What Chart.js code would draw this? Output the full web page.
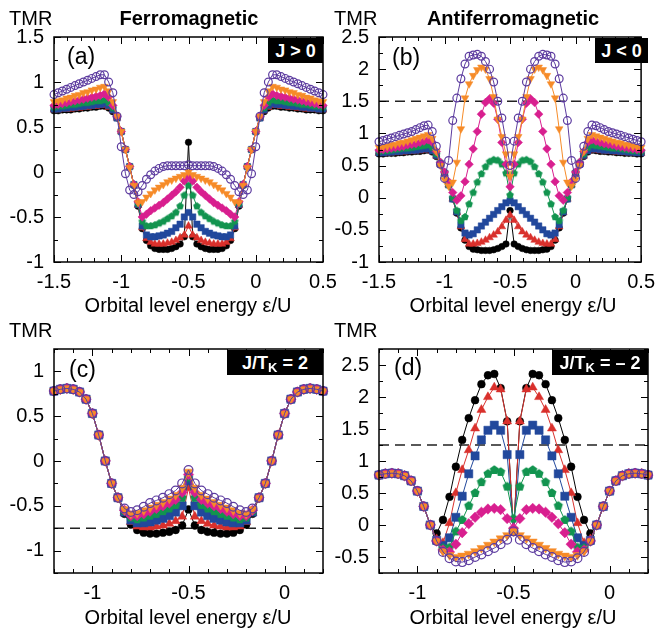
<!DOCTYPE html>
<html><head><meta charset="utf-8">
<script src="https://cdn.jsdelivr.net/npm/chart.js@4.4.1/dist/chart.umd.min.js"></script>
<style>
html,body{margin:0;padding:0;background:#fff;}
#wrap{position:relative;width:663px;height:629px;overflow:hidden;background:#fff;font-family:'Liberation Sans',Arial,Helvetica,sans-serif;color:#000;}
#wrap canvas{position:absolute;left:0;top:0;}
.t{position:absolute;white-space:nowrap;line-height:1;}
.c{text-align:center;width:300px;}
.box{position:absolute;background:#000;color:#fff;font-weight:bold;font-size:18px;display:flex;align-items:center;justify-content:center;white-space:nowrap;line-height:1;}
.box .k{position:relative;top:5px;font-size:13px;}
</style></head><body>
<div id="wrap">
<canvas id="ca" width="663" height="629"></canvas>
<canvas id="cb" width="663" height="629"></canvas>
<canvas id="cc" width="663" height="629"></canvas>
<canvas id="cd" width="663" height="629"></canvas>

<div class="t" style="left:9px;top:8px;font-size:20px">TMR</div>
<div class="t" style="left:334px;top:8px;font-size:20px">TMR</div>
<div class="t" style="left:9px;top:320px;font-size:20px">TMR</div>
<div class="t" style="left:334px;top:320px;font-size:20px">TMR</div>
<div class="t c" style="left:39px;top:8px;font-size:20px;font-weight:bold">Ferromagnetic</div>
<div class="t c" style="left:363px;top:8px;font-size:20px;font-weight:bold">Antiferromagnetic</div>
<div class="t c" style="left:38px;top:295px;font-size:20px">Orbital level energy ε/U</div>
<div class="t c" style="left:363px;top:295px;font-size:20px">Orbital level energy ε/U</div>
<div class="t c" style="left:38px;top:607px;font-size:20px">Orbital level energy ε/U</div>
<div class="t c" style="left:363px;top:607px;font-size:20px">Orbital level energy ε/U</div>
<div class="t" style="left:67px;top:45px;font-size:23px">(a)</div>
<div class="t" style="left:392px;top:46px;font-size:23px">(b)</div>
<div class="t" style="left:69px;top:358px;font-size:23px">(c)</div>
<div class="t" style="left:394px;top:356px;font-size:23px">(d)</div>
<div class="box" style="left:268px;top:38px;width:55px;height:25px">J &gt; 0</div>
<div class="box" style="left:595px;top:38px;width:53px;height:25px">J &lt; 0</div>
<div class="box" style="left:227px;top:350px;width:96px;height:25px">J/T<span class="k">K</span>&nbsp;=&nbsp;2</div>
<div class="box" style="left:552px;top:350px;width:96px;height:25px">J/T<span class="k">K</span>&nbsp;=&nbsp;–&nbsp;2</div>
</div>
<script>
// ---------- x grids ----------
const xAB = [-1.5,-1.46875,-1.4375,-1.40625,-1.375,-1.34375,-1.3125,-1.28125,-1.25,-1.21875,-1.1875,-1.15625,-1.125,-1.09375,-1.0625,-1.03125,-1,-0.96875,-0.9375,-0.90625,-0.875,-0.84375,-0.8125,-0.78125,-0.75,-0.71875,-0.6875,-0.65625,-0.625,-0.59375,-0.5625,-0.53125,-0.5,-0.46875,-0.4375,-0.40625,-0.375,-0.34375,-0.3125,-0.28125,-0.25,-0.21875,-0.1875,-0.15625,-0.125,-0.09375,-0.0625,-0.03125,0,0.03125,0.0625,0.09375,0.125,0.15625,0.1875,0.21875,0.25,0.28125,0.3125,0.34375,0.375,0.40625,0.4375,0.46875,0.5];
const xCD = [-1.2,-1.167,-1.133,-1.1,-1.067,-1.033,-1,-0.967,-0.933,-0.9,-0.867,-0.833,-0.8,-0.767,-0.733,-0.7,-0.667,-0.633,-0.6,-0.567,-0.533,-0.5,-0.467,-0.433,-0.4,-0.367,-0.333,-0.3,-0.267,-0.233,-0.2,-0.167,-0.133,-0.1,-0.067,-0.033,0,0.033,0.067,0.1,0.133,0.167,0.2];

// ---------- tick labels ----------
const xTicksAB = [-1.5,-1,-0.5,0,0.5];
const xTicksCD = [-1,-0.5,0];
const yTicksA = [-1,-0.5,0,0.5,1,1.5];
const yTicksB = [-1,-0.5,0,0.5,1,1.5,2,2.5];
const yTicksC = [-1,-0.5,0,0.5,1];
const yTicksD = [-0.5,0,0.5,1,1.5,2,2.5];

// ---------- panel (a) ferromagnetic J>0 ----------
const aPurple = [.86,.88,.90,.92,.94,.96,.98,1.00,1.02,1.04,1.06,1.08,1.08,1.00,.88,.62,.28,-.02,-.2,-.25,-.22,-.15,-.08,-.03,.01,.04,.06,.07,.07,.07,.07,.07,.08,.07,.07,.07,.07,.07,.06,.04,.01,-.03,-.08,-.15,-.22,-.25,-.2,-.02,.28,.62,.88,1.00,1.08,1.08,1.06,1.04,1.02,1.00,.98,.96,.94,.92,.90,.88,.86];
const aOrange = [.78,.79,.80,.82,.83,.85,.86,.88,.89,.91,.92,.94,.95,.90,.78,.62,.45,.25,.05,-.15,-.34,-.33,-.28,-.24,-.2,-.17,-.14,-.11,-.09,-.07,-.05,-.03,.0,-.03,-.05,-.07,-.09,-.11,-.14,-.17,-.2,-.24,-.28,-.33,-.34,-.15,.05,.25,.45,.62,.78,.90,.95,.94,.92,.91,.89,.88,.86,.85,.83,.82,.80,.79,.78];
const aMagenta = [.74,.75,.76,.77,.78,.79,.80,.81,.82,.83,.84,.85,.87,.83,.74,.62,.45,.25,.06,-.14,-.33,-.5,-.47,-.43,-.4,-.37,-.34,-.3,-.26,-.22,-.17,-.1,-.05,-.1,-.17,-.22,-.26,-.3,-.34,-.37,-.4,-.43,-.47,-.5,-.33,-.14,.06,.25,.45,.62,.74,.83,.87,.85,.84,.83,.82,.81,.80,.79,.78,.77,.76,.75,.74];
const aGreen = [.72,.73,.73,.74,.75,.75,.76,.77,.77,.78,.79,.79,.80,.77,.71,.61,.45,.25,.06,-.14,-.35,-.55,-.6,-.6,-.59,-.57,-.55,-.52,-.49,-.45,-.38,-.26,-.15,-.26,-.38,-.45,-.49,-.52,-.55,-.57,-.59,-.6,-.6,-.55,-.35,-.14,.06,.25,.45,.61,.71,.77,.80,.79,.79,.78,.77,.77,.76,.75,.75,.74,.73,.73,.72];
const aBlue = [.70,.70,.71,.71,.72,.72,.73,.73,.74,.74,.75,.75,.76,.74,.69,.6,.45,.25,.06,-.14,-.36,-.6,-.7,-.72,-.72,-.71,-.7,-.68,-.66,-.62,-.58,-.5,-.45,-.5,-.58,-.62,-.66,-.68,-.7,-.71,-.72,-.72,-.7,-.6,-.36,-.14,.06,.25,.45,.6,.69,.74,.76,.75,.75,.74,.74,.73,.73,.72,.72,.71,.71,.70,.70];
const aRed = [.69,.69,.70,.70,.70,.71,.71,.72,.72,.73,.73,.74,.74,.72,.68,.6,.45,.25,.06,-.14,-.37,-.62,-.74,-.78,-.8,-.8,-.8,-.79,-.78,-.76,-.73,-.7,-.6,-.7,-.73,-.76,-.78,-.79,-.8,-.8,-.8,-.78,-.74,-.62,-.37,-.14,.06,.25,.45,.6,.68,.72,.74,.74,.73,.73,.72,.72,.71,.71,.70,.70,.70,.69,.69];
const aBlack = [.68,.68,.69,.69,.69,.70,.70,.71,.71,.72,.72,.73,.73,.71,.67,.6,.45,.25,.06,-.15,-.38,-.63,-.76,-.82,-.85,-.86,-.86,-.86,-.85,-.83,-.8,-.72,.33,-.72,-.8,-.83,-.85,-.86,-.86,-.86,-.85,-.82,-.76,-.63,-.38,-.15,.06,.25,.45,.6,.67,.71,.73,.73,.72,.72,.71,.71,.70,.70,.69,.69,.69,.68,.68];

// ---------- panel (b) antiferromagnetic J<0 ----------
const bPurple = [.87,.89,.91,.93,.95,.97,.99,1.01,1.03,1.06,1.09,1.12,1.13,1.03,.8,.52,.3,.58,1.2,1.55,1.85,2.08,2.2,2.22,2.23,2.2,2.12,2.0,1.8,1.5,1.24,.88,.5,.88,1.24,1.5,1.8,2.0,2.12,2.2,2.23,2.22,2.2,2.08,1.85,1.55,1.2,.58,.3,.52,.8,1.03,1.13,1.12,1.09,1.06,1.03,1.01,.99,.97,.95,.93,.91,.89,.87];
const bOrange = [.78,.79,.80,.82,.83,.85,.86,.88,.90,.92,.94,.96,.98,.92,.72,.5,.28,.18,.24,.55,1.07,1.55,1.77,1.9,1.99,2.03,2.0,1.85,1.57,1.22,.95,.68,.33,.68,.95,1.22,1.57,1.85,2.0,2.03,1.99,1.9,1.77,1.55,1.07,.55,.24,.18,.28,.5,.72,.92,.98,.96,.94,.92,.90,.88,.86,.85,.83,.82,.80,.79,.78];
const bMagenta = [.74,.75,.76,.77,.78,.79,.80,.82,.83,.84,.86,.88,.90,.86,.72,.55,.4,.25,.08,-.04,.03,.25,.52,.76,1.03,1.3,1.48,1.54,1.47,1.22,.86,.52,.17,.52,.86,1.22,1.47,1.54,1.48,1.3,1.03,.76,.52,.25,.03,-.04,.08,.25,.4,.55,.72,.86,.90,.88,.86,.84,.83,.82,.80,.79,.78,.77,.76,.75,.74];
const bGreen = [.72,.73,.73,.74,.75,.76,.77,.77,.78,.79,.80,.81,.82,.78,.68,.55,.4,.2,.0,-.2,-.36,-.3,-.1,.08,.24,.37,.48,.56,.59,.58,.52,.38,.04,.38,.52,.58,.59,.56,.48,.37,.24,.08,-.1,-.3,-.36,-.2,.0,.2,.4,.55,.68,.78,.82,.81,.80,.79,.78,.77,.77,.76,.75,.74,.73,.73,.72];
const bBlue = [.70,.70,.71,.71,.72,.72,.73,.73,.74,.74,.75,.76,.76,.73,.66,.52,.38,.2,-.02,-.22,-.42,-.55,-.58,-.56,-.5,-.44,-.38,-.32,-.26,-.2,-.14,-.08,-.05,-.08,-.14,-.2,-.26,-.32,-.38,-.44,-.5,-.56,-.58,-.55,-.42,-.22,-.02,.2,.38,.52,.66,.73,.76,.76,.75,.74,.74,.73,.73,.72,.72,.71,.71,.70,.70];
const bRed = [.69,.69,.70,.70,.70,.71,.71,.72,.72,.73,.73,.74,.75,.72,.65,.52,.38,.2,-.02,-.23,-.45,-.65,-.72,-.72,-.71,-.69,-.66,-.62,-.58,-.53,-.45,-.35,-.27,-.35,-.45,-.53,-.58,-.62,-.66,-.69,-.71,-.72,-.72,-.65,-.45,-.23,-.02,.2,.38,.52,.65,.72,.75,.74,.73,.73,.72,.72,.71,.71,.70,.70,.70,.69,.69];
const bBlack = [.68,.68,.69,.69,.69,.70,.70,.71,.71,.72,.72,.73,.74,.71,.64,.52,.38,.2,-.02,-.24,-.47,-.66,-.76,-.8,-.81,-.82,-.82,-.82,-.81,-.79,-.76,-.72,-.2,-.72,-.76,-.79,-.81,-.82,-.82,-.82,-.81,-.8,-.76,-.66,-.47,-.24,-.02,.2,.38,.52,.64,.71,.74,.73,.72,.72,.71,.71,.70,.70,.69,.69,.69,.68,.68];

// ---------- panel (c) J/T_K = 2 ----------
const cPurple = [.78,.80,.81,.80,.77,.69,.53,.29,.0,-.25,-.41,-.53,-.57,-.55,-.51,-.47,-.44,-.41,-.37,-.33,-.25,-.10,-.25,-.33,-.37,-.41,-.44,-.47,-.51,-.55,-.57,-.53,-.41,-.25,.0,.29,.53,.69,.77,.80,.81,.80,.78];
const cOrange = [.78,.80,.81,.80,.77,.69,.53,.29,.0,-.25,-.41,-.54,-.59,-.58,-.55,-.52,-.49,-.46,-.42,-.38,-.3,-.12,-.3,-.38,-.42,-.46,-.49,-.52,-.55,-.58,-.59,-.54,-.41,-.25,.0,.29,.53,.69,.77,.80,.81,.80,.78];
const cMagenta = [.78,.80,.81,.80,.77,.69,.53,.29,.0,-.25,-.41,-.55,-.61,-.61,-.59,-.56,-.53,-.5,-.47,-.43,-.35,-.15,-.35,-.43,-.47,-.5,-.53,-.56,-.59,-.61,-.61,-.55,-.41,-.25,.0,.29,.53,.69,.77,.80,.81,.80,.78];
const cGreen = [.78,.80,.81,.80,.77,.69,.53,.29,.0,-.25,-.41,-.56,-.63,-.65,-.63,-.61,-.59,-.56,-.53,-.49,-.41,-.18,-.41,-.49,-.53,-.56,-.59,-.61,-.63,-.65,-.63,-.56,-.41,-.25,.0,.29,.53,.69,.77,.80,.81,.80,.78];
const cBlue = [.78,.80,.81,.80,.77,.69,.53,.29,.0,-.25,-.41,-.57,-.66,-.69,-.69,-.68,-.66,-.64,-.61,-.57,-.5,-.22,-.5,-.57,-.61,-.64,-.66,-.68,-.69,-.69,-.66,-.57,-.41,-.25,.0,.29,.53,.69,.77,.80,.81,.80,.78];
const cRed = [.78,.80,.81,.80,.77,.69,.53,.29,.0,-.25,-.41,-.58,-.68,-.73,-.74,-.74,-.73,-.72,-.7,-.67,-.62,-.3,-.62,-.67,-.7,-.72,-.73,-.74,-.74,-.73,-.68,-.58,-.41,-.25,.0,.29,.53,.69,.77,.80,.81,.80,.78];
const cBlack = [.78,.80,.81,.80,.77,.69,.53,.29,.0,-.25,-.41,-.59,-.71,-.77,-.8,-.81,-.81,-.8,-.79,-.77,-.72,-.54,-.72,-.77,-.79,-.8,-.81,-.81,-.8,-.77,-.71,-.59,-.41,-.25,.0,.29,.53,.69,.77,.80,.81,.80,.78];

// ---------- panel (d) J/T_K = -2 ----------
const dPurple = [.78,.80,.81,.80,.77,.69,.53,.29,.0,-.25,-.42,-.52,-.57,-.58,-.55,-.5,-.46,-.41,-.36,-.3,-.23,-.1,-.23,-.3,-.36,-.41,-.46,-.5,-.55,-.58,-.57,-.52,-.42,-.25,.0,.29,.53,.69,.77,.80,.81,.80,.78];
const dOrange = [.78,.80,.81,.80,.77,.69,.53,.29,.0,-.25,-.41,-.47,-.5,-.48,-.45,-.41,-.36,-.31,-.26,-.21,-.16,-.1,-.16,-.21,-.26,-.31,-.36,-.41,-.45,-.48,-.5,-.47,-.41,-.25,.0,.29,.53,.69,.77,.80,.81,.80,.78];
const dMagenta = [.78,.80,.81,.80,.77,.69,.53,.29,.0,-.25,-.39,-.42,-.3,-.12,.02,.12,.2,.25,.26,.24,.1,-.05,.1,.24,.26,.25,.2,.12,.02,-.12,-.3,-.42,-.39,-.25,.0,.29,.53,.69,.77,.80,.81,.80,.78];
const dGreen = [.78,.80,.81,.80,.77,.69,.53,.29,.0,-.25,-.36,-.35,-.1,.08,.3,.5,.67,.8,.86,.83,.6,.1,.6,.83,.86,.8,.67,.5,.3,.08,-.1,-.35,-.36,-.25,.0,.29,.53,.69,.77,.80,.81,.80,.78];
const dBlue = [.78,.80,.81,.80,.77,.69,.53,.29,.0,-.24,-.32,-.2,.12,.45,.8,1.08,1.33,1.48,1.56,1.48,1.1,-.1,1.1,1.48,1.56,1.48,1.33,1.08,.8,.45,.12,-.2,-.32,-.24,.0,.29,.53,.69,.77,.80,.81,.80,.78];
const dRed = [.78,.80,.81,.80,.77,.69,.53,.29,.0,-.22,-.28,.03,.5,.86,1.17,1.51,1.8,2.0,2.15,2.12,1.62,-.1,1.62,2.12,2.15,2.0,1.8,1.51,1.17,.86,.5,.03,-.28,-.22,.0,.29,.53,.69,.77,.80,.81,.80,.78];
const dBlack = [.78,.80,.81,.80,.77,.69,.53,.29,.0,-.13,.08,.44,.91,1.33,1.67,1.95,2.2,2.34,2.36,2.14,1.62,-.1,1.62,2.14,2.36,2.34,2.2,1.95,1.67,1.33,.91,.44,.08,-.13,.0,.29,.53,.69,.77,.80,.81,.80,.78];

// ---------- reference (dashed) levels ----------
const dashB = 1.5, dashC = -0.75, dashD = 1.25;

// ---------- styling ----------
const FONT = "'Liberation Sans', Arial, Helvetica, sans-serif";
const COL = {black:'#000000', red:'#d9302c', blue:'#22489c', green:'#12944f', magenta:'#d81f8f', orange:'#f68b28', purple:'#5c3b9f'};

function pentagon(r, color){
  const s = Math.ceil(r*2+2);
  const c = document.createElement('canvas'); c.width = s; c.height = s;
  const g = c.getContext('2d'); g.fillStyle = color; g.beginPath();
  for (let k=0;k<5;k++){
    const a = -Math.PI/2 + k*2*Math.PI/5;
    const px = s/2 + r*Math.cos(a), py = s/2 + r*Math.sin(a);
    if (k===0) g.moveTo(px,py); else g.lineTo(px,py);
  }
  g.closePath(); g.fill();
  return c;
}
const pentSmall = pentagon(4.0, COL.green);
const pentBig = pentagon(4.8, COL.green);

const framePlugin = {
  id:'frame',
  afterDatasetsDraw(chart, args, o){
    const ctx = chart.ctx, a = chart.chartArea, xs = chart.scales.x, ys = chart.scales.y;
    ctx.save();
    ctx.strokeStyle = '#000'; ctx.lineWidth = 1;
    const seg = (x1,y1,x2,y2)=>{ctx.beginPath();ctx.moveTo(x1,y1);ctx.lineTo(x2,y2);ctx.stroke();};
    const near = (v,arr)=>arr.some(t=>Math.abs(t-v)<1e-6);
    const kx0 = Math.ceil(xs.min/o.xMinor-1e-6), kx1 = Math.floor(xs.max/o.xMinor+1e-6);
    for (let k=kx0;k<=kx1;k++){
      const v = k*o.xMinor, L = near(v,o.xMajor)?7:4;
      const p = Math.round(xs.getPixelForValue(v))+0.5;
      seg(p,a.bottom,p,a.bottom-L); seg(p,a.top,p,a.top+L);
    }
    const ky0 = Math.ceil(ys.min/o.yMinor-1e-6), ky1 = Math.floor(ys.max/o.yMinor+1e-6);
    for (let k=ky0;k<=ky1;k++){
      const v = k*o.yMinor, L = near(v,o.yMajor)?7:4;
      const p = Math.round(ys.getPixelForValue(v))+0.5;
      seg(a.left,p,a.left+L,p); seg(a.right,p,a.right-L,p);
    }
    ctx.lineWidth = 1.5;
    ctx.strokeRect(a.left, a.top, a.right-a.left, a.bottom-a.top);
    ctx.restore();
  }
};

function makeChart(id, cfg){
  const YW = 54, XH = 48, ar = cfg.area, big = cfg.big;
  const S = big
    ? {purple:4.4, orange:5.2, magenta:5.2, green:4.8, blue:5.8, red:5.2, black:3.9}
    : {purple:3.9, orange:4.4, magenta:4.3, green:4.0, blue:4.5, red:4.4, black:3.3};
  const defs = [
    {ys:cfg.s.purple, color:COL.purple, style:'circle', r:S.purple, open:true},
    {ys:cfg.s.orange, color:COL.orange, style:'triangle', rot:180, r:S.orange},
    {ys:cfg.s.magenta, color:COL.magenta, style:'rectRot', r:S.magenta},
    {ys:cfg.s.green, color:COL.green, style: big?pentBig:pentSmall, r:S.green},
    {ys:cfg.s.blue, color:COL.blue, style:'rect', r:S.blue},
    {ys:cfg.s.red, color:COL.red, style:'triangle', r:S.red},
    {ys:cfg.s.black, color:COL.black, style:'circle', r:S.black}
  ];
  const sets = defs.map(s=>({
    data: cfg.xs.map((x,i)=>({x:x, y:s.ys[i]})),
    borderColor:s.color, backgroundColor:s.color, borderWidth:1,
    pointStyle:s.style, pointRotation:s.rot||0, pointRadius:s.r,
    pointBackgroundColor: s.open ? 'rgba(0,0,0,0)' : s.color,
    pointBorderColor:s.color, pointBorderWidth: s.open?1.2:0.5,
    tension:0, clip:false, fill:false
  }));
  if (cfg.dash !== null) {
    sets.push({data:[{x:cfg.xMin,y:cfg.dash},{x:cfg.xMax,y:cfg.dash}], borderColor:'#222', borderWidth:1.5,
      borderDash:[10,6], pointRadius:0, clip:false, fill:false, tension:0});
  }
  const tickFont = {family:FONT, size:20};
  return new Chart(document.getElementById(id), {
    type:'line',
    data:{datasets:sets},
    options:{
      responsive:false, maintainAspectRatio:false, animation:false, devicePixelRatio:1, events:[],
      layout:{padding:{left:ar.l-YW, top:ar.t, right:663-ar.r, bottom:629-ar.b-XH}},
      plugins:{legend:{display:false}, tooltip:{enabled:false},
        frame:{xMajor:cfg.xTicks, yMajor:cfg.yTicks, xMinor:0.1, yMinor:0.25}},
      scales:{
        x:{type:'linear', min:cfg.xMin, max:cfg.xMax,
          grid:{display:false, drawTicks:false}, border:{display:false},
          afterBuildTicks:(s)=>{ s.ticks = cfg.xTicks.map(v=>({value:v})); },
          afterFit:(s)=>{ s.height = XH; },
          ticks:{autoSkip:false, maxRotation:0, minRotation:0, padding:8, color:'#000', font:tickFont, callback:(v)=>String(v)}},
        y:{type:'linear', min:cfg.yMin, max:cfg.yMax,
          grid:{display:false, drawTicks:false}, border:{display:false},
          afterBuildTicks:(s)=>{ s.ticks = cfg.yTicks.map(v=>({value:v})); },
          afterFit:(s)=>{ s.width = YW; },
          ticks:{autoSkip:false, padding:10, color:'#000', font:tickFont, callback:(v)=>String(v)}}
      }
    },
    plugins:[framePlugin]
  });
}

makeChart('ca', {xs:xAB, xMin:-1.5, xMax:0.5, yMin:-1, yMax:1.5, xTicks:xTicksAB, yTicks:yTicksA, dash:null, big:false,
  area:{l:54,t:37,r:323,b:262},
  s:{purple:aPurple, orange:aOrange, magenta:aMagenta, green:aGreen, blue:aBlue, red:aRed, black:aBlack}});
makeChart('cb', {xs:xAB, xMin:-1.5, xMax:0.5, yMin:-1, yMax:2.5, xTicks:xTicksAB, yTicks:yTicksB, dash:dashB, big:false,
  area:{l:379,t:37,r:648,b:262},
  s:{purple:bPurple, orange:bOrange, magenta:bMagenta, green:bGreen, blue:bBlue, red:bRed, black:bBlack}});
makeChart('cc', {xs:xCD, xMin:-1.2, xMax:0.2, yMin:-1.25, yMax:1.25, xTicks:xTicksCD, yTicks:yTicksC, dash:dashC, big:true,
  area:{l:54,t:349,r:323,b:573},
  s:{purple:cPurple, orange:cOrange, magenta:cMagenta, green:cGreen, blue:cBlue, red:cRed, black:cBlack}});
makeChart('cd', {xs:xCD, xMin:-1.2, xMax:0.2, yMin:-0.75, yMax:2.75, xTicks:xTicksCD, yTicks:yTicksD, dash:dashD, big:true,
  area:{l:379,t:349,r:648,b:573},
  s:{purple:dPurple, orange:dOrange, magenta:dMagenta, green:dGreen, blue:dBlue, red:dRed, black:dBlack}});
</script>
</body></html>
